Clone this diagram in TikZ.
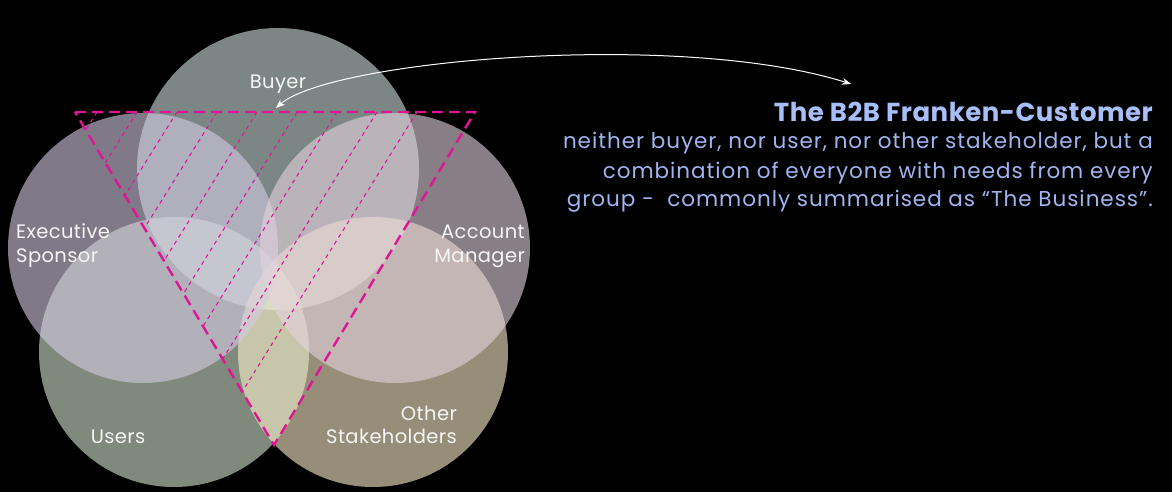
\documentclass[tikz,border=0pt]{standalone}
\usepackage{fontspec}
\setmainfont{Poppins}
\newfontfamily\lblfont[LetterSpace=2]{Poppins}
\newfontfamily\bodyfont[LetterSpace=4.5]{Poppins}
\newfontfamily\ttlfont[LetterSpace=2]{Poppins}
\usetikzlibrary{arrows.meta}
\definecolor{mag}{RGB}{222,22,150}
\definecolor{buyerc}{RGB}{208,225,223}
\definecolor{execc}{RGB}{212,203,227}
\definecolor{amc}{RGB}{228,210,222}
\definecolor{usersc}{RGB}{212,230,208}
\definecolor{otherc}{RGB}{250,238,202}
\definecolor{lbltext}{RGB}{245,245,245}
\definecolor{titlec}{RGB}{168,190,248}
\definecolor{bodyc}{RGB}{160,180,240}
\tikzset{
  circ/.style={fill opacity=0.6},
  lbl/.style={text=lbltext, inner sep=0pt, font=\lblfont\fontsize{19.5}{23}\selectfont},
  tri/.style={draw=mag, line width=2.4pt, dash pattern=on 11pt off 6pt, line join=miter},
  hatch/.style={draw=mag, line width=1.1pt, dash pattern=on 4pt off 4pt},
  link/.style={draw=white, line width=1pt, {Stealth[length=9pt,width=7pt]}-{Stealth[length=9pt,width=7pt]}},
  ttl/.style={text=titlec, inner sep=0pt, font=\ttlfont\bfseries\fontsize{26}{28}\selectfont},
  body/.style={text=bodyc, inner sep=0pt, font=\bodyfont\fontsize{21.5}{28}\selectfont}
}
\begin{document}
\begin{tikzpicture}[x=1pt,y=-1pt]
\fill[black] (0,0) rectangle (1172,492);
\useasboundingbox (0,0) rectangle (1172,492);
% circles
\fill[buyerc, circ] (278,169) circle[radius=141];
\fill[usersc, circ] (174,352) circle[radius=135];
\fill[otherc, circ] (373,352) circle[radius=135];
\fill[execc, circ] (143,248) circle[radius=135];
\fill[amc, circ] (395,248) circle[radius=135];
% triangle
\coordinate (tl) at (75,112);
\coordinate (tr) at (475,112);
\coordinate (ap) at (274,445);
\begin{scope}
  \clip (tl) -- (tr) -- (ap) -- cycle;
  \foreach \x in {97,137,...,417} \draw[hatch] (\x,112) -- ++(-250,400);
\end{scope}
\draw[tri] (tl) -- (tr) -- (ap) -- cycle;
% labels
\node[lbl, anchor=base] (buyer) at (278,89) {Buyer};
\node[lbl, anchor=base west] (exec1) at (16,238) {Executive};
\node[lbl, anchor=base west] (exec2) at (16,262) {Sponsor};
\node[lbl, anchor=base east] (am1) at (525,238) {Account};
\node[lbl, anchor=base east] (am2) at (525,262) {Manager};
\node[lbl, anchor=base] (users) at (118,443) {Users};
\node[lbl, anchor=base east] (oth1) at (457,420) {Other};
\node[lbl, anchor=base east] (oth2) at (457,443) {Stakeholders};
% text
\node[ttl, anchor=base east] (title) at (1153,122) {The B2B Franken-Customer};
\node[body, anchor=base east] (b1) at (1153,149) {neither buyer, nor user, nor other stakeholder, but a};
\node[body, anchor=base east] (b2) at (1153,178) {combination of everyone with needs from every};
\node[body, anchor=base east] (b3) at (1153,206) {group -\ \ commonly summarised as “The Business”.};
% arrow
\coordinate (arrL) at (276,108);
\coordinate (arrR) at (851,84);
\draw[link] (arrL) .. controls (330,60) and (680,30) .. (arrR);
\end{tikzpicture}
\end{document}
